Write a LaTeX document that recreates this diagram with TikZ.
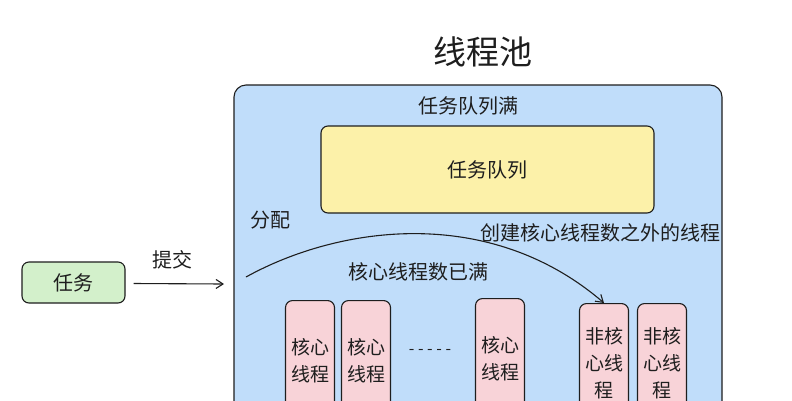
\documentclass[tikz,border=0pt]{standalone}
\usepackage{fontspec}
\setmainfont{Noto Sans CJK SC}
\usetikzlibrary{arrows.meta}
\definecolor{pblue}{HTML}{C0DDFA}
\definecolor{pyellow}{HTML}{FCF1A9}
\definecolor{pgreen}{HTML}{D3F0CB}
\definecolor{ppink}{HTML}{F8D3D8}
\definecolor{ink}{HTML}{1E1E1E}
\begin{document}
\begin{tikzpicture}[x=1pt,y=-1pt,
  lbl/.style={font=\fontsize{20}{24}\selectfont,text=ink,inner sep=0},
  box/.style={draw=ink,line width=1.1pt,rounded corners=7pt},
  thr/.style={box,fill=ppink,minimum width=49pt,minimum height=120pt,anchor=north,align=center,font=\fontsize{19}{27}\selectfont,text=ink},
  arr/.style={draw=ink,line width=1.1pt,-{Straight Barb[length=7pt,width=9pt]}}]
\useasboundingbox (0,0) rectangle (792,400);
\fill[white] (0,0) rectangle (792,400);
\node[lbl,font=\fontsize{33}{36}\selectfont] (title) at (483,52) {线程池};
\draw[box,fill=pblue,rounded corners=12pt] (234,85) rectangle (722,440);
\node[lbl] (full) at (468,106) {任务队列满};
\node[box,fill=pyellow,minimum width=333pt,minimum height=87pt,lbl,inner sep=0] (queue) at (487.5,169.5) {任务队列};
\node[lbl] (fp) at (270,220) {分配};
\node[lbl] (create) at (600,233) {创建核心线程数之外的线程};
\node[lbl] (corefull) at (418,272) {核心线程数已满};
\node[box,fill=pgreen,minimum width=103pt,minimum height=41pt,lbl] (task) at (73.5,282.5) {任务};
\node[lbl] (submit) at (172,260) {提交};
\coordinate (ae) at (224,284);
\draw[arr] (task.east) ++(8,1) -- (ae);
\node[thr] (c1) at (310,300) {核心\\线程};
\node[thr] (c2) at (366,300) {核心\\线程};
\node[lbl,font=\fontsize{16}{20}\selectfont] (dots) at (430,352) {- - - - -};
\node[thr] (c3) at (500,298) {核心\\线程};
\node[thr] (n1) at (604,303) {非核\\心线\\程};
\node[thr] (n2) at (662,303) {非核\\心线\\程};
\coordinate (cs) at (246,277);
\draw[arr] (cs) .. controls (340,225) and (490,205) .. (n1.north);
\end{tikzpicture}
\end{document}
